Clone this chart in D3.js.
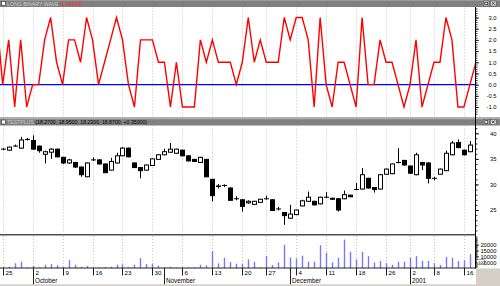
<!DOCTYPE html>
<html><head><meta charset="utf-8">
<script src="https://cdn.jsdelivr.net/npm/d3@7"></script>
<style>html,body{margin:0;padding:0;background:#fff;overflow:hidden}svg{display:block}text{font-family:"Liberation Sans",Arial,sans-serif}</style>
</head><body><svg id="c" width="500" height="286"></svg>
<script>
// ---------- DATA ----------
const dates = ["2000-09-22",
"2000-09-25","2000-09-26","2000-09-27","2000-09-28","2000-09-29",
"2000-10-02","2000-10-03","2000-10-04","2000-10-05","2000-10-06",
"2000-10-09","2000-10-10","2000-10-11","2000-10-12","2000-10-13",
"2000-10-16","2000-10-17","2000-10-18","2000-10-19","2000-10-20",
"2000-10-23","2000-10-24","2000-10-25","2000-10-26","2000-10-27",
"2000-10-30","2000-10-31","2000-11-01","2000-11-02","2000-11-03",
"2000-11-06","2000-11-07","2000-11-08","2000-11-09","2000-11-10",
"2000-11-13","2000-11-14","2000-11-15","2000-11-16","2000-11-17",
"2000-11-20","2000-11-21","2000-11-22","2000-11-24",
"2000-11-27","2000-11-28","2000-11-29","2000-11-30","2000-12-01",
"2000-12-04","2000-12-05","2000-12-06","2000-12-07","2000-12-08",
"2000-12-11","2000-12-12","2000-12-13","2000-12-14","2000-12-15",
"2000-12-18","2000-12-19","2000-12-20","2000-12-21","2000-12-22",
"2000-12-26","2000-12-27","2000-12-28","2000-12-29",
"2001-01-02","2001-01-03","2001-01-04","2001-01-05",
"2001-01-08","2001-01-09","2001-01-10","2001-01-11","2001-01-12",
"2001-01-16","2001-01-17","2001-01-18"];

const wave = [3,
0,2,-1,2,-1, 0,0,2,3,1, 0,2,2,1,3, 2,0,1,2,3, 2,0,-1,2,2,
2,1,1,-1,1, -1,-1,-1,2,1, 2,1,1,1,0, 1,3,1,2, 1,1,1,3,2,
3,3,2,-1,3, 0,-1,1,1,0, -1,3,0,0,2, 1,1,0,-1, 0,2,-1,0,
1,1,3,2,-1, -1,0,1];

const open = [null,
36.9,36.7,37.5,37.1,38.8, 38.6,37.5,35.9,36.3,36.9, 35.3,34.2,34.3,33.4,31.5,
34.8,34.8,34.0,32.8,34.2, 35.6,37.1,34.2,33.3,32.8, 33.7,34.9,35.8,36.3,36.1,
36.7,35.6,34.9,34.3,34.9, 31.0,29.6,29.8,29.3,27.2, 27.0,26.4,26.1,26.5,
27.2,27.0,25.2,24.5,23.4, 24.1,25.8,26.7,26.7,26.2, 27.5,27.3,27.2,27.2,27.9,
29.0,29.1,31.2,29.4,29.1, 32.0,32.1,34.3,34.7, 33.6,31.9,34.3,34.2,
31.2,32.0,32.7,35.8,38.2, 36.7,36.4,null];
const high = [null,
37.1,37.4,37.8,39.3,39.1, 39.6,37.6,36.6,37.1,37.0, 35.4,35.0,34.4,33.5,34.3,
35.3,34.9,34.1,35.2,36.2, 37.3,37.2,34.3,33.4,33.9, 35.1,35.9,37.0,38.1,37.0,
36.8,35.7,35.0,35.4,35.0, 31.1,30.1,30.0,29.4,27.7, 27.1,26.9,26.8,27.2,
27.8,27.1,25.6,24.6,26.0, 25.1,27.0,28.6,26.8,27.6, 28.5,27.4,27.3,28.8,28.0,
30.3,33.2,31.3,29.5,32.0, 33.1,34.1,37.1,34.8, 33.7,36.2,34.4,34.3,
31.5,33.1,36.6,38.5,38.8, 36.8,38.5,null];
const low = [null,
36.7,36.6,37.4,37.0,38.6, 36.8,36.2,34.1,35.0,35.3, 34.0,34.0,33.2,31.5,31.4,
34.6,33.9,32.2,32.7,34.1, 35.5,35.3,33.2,31.2,32.7, 33.6,34.8,35.7,36.2,36.0,
35.5,34.5,34.4,34.2,31.4, 26.7,29.2,29.5,26.8,26.9, 24.7,26.2,26.0,26.4,
27.0,24.8,24.9,22.1,23.3, 24.0,25.7,26.6,25.9,26.1, 27.3,27.0,24.7,27.1,27.5,
28.9,29.0,29.2,28.4,29.0, 31.9,32.0,34.1,33.7, 32.1,31.8,32.8,30.2,
30.8,31.9,32.6,35.7,37.1, 35.7,36.3,null];
const close = [null,
36.9,37.3,37.5,38.7,38.8, 36.9,36.6,36.4,36.9,35.4, 34.2,34.8,33.4,31.9,34.2,
34.8,34.0,32.3,34.5,35.6, 37.1,35.4,33.3,32.7,33.8, 35.0,35.8,36.4,36.9,36.9,
35.6,34.6,34.5,35.3,31.5, 27.8,29.7,29.8,26.9,27.2, 25.7,26.7,26.7,27.1,
27.2,24.9,25.2,23.9,24.2, 25.0,26.8,27.5,26.0,27.5, 27.5,27.1,25.0,28.0,27.6,
29.0,31.9,29.3,29.0,31.9, 33.0,34.0,34.3,33.8, 32.2,35.8,33.8,31.2,
31.2,33.0,36.1,38.1,37.2, 35.8,37.7,null];
const volume = [null,
500,1100,4000,5400,600, 2000,300,2800,3400,2300, 600,6800,2800,1100,1700,
300,300,850,1100,2800, 3100,600,2800,8500,3400, 3700,2000,600,1100,300,
300,300,600,2800,2300, 14500,4000,8800,5100,3700, 3500,7500,5400,600,
10200,2600,4800,19900,9100, 8200,10500,5400,5400,19600, 13000,4800,8800,24400,13900,
7400,13900,10200,4800,6000, 4000,2800,5400,5400, 8800,10200,6200,6000,
4000,2600,9600,8800,6000, 6600,11900,null];

const dayTicks = ["2000-09-25","2000-10-02","2000-10-09","2000-10-16","2000-10-23","2000-10-30",
"2000-11-06","2000-11-13","2000-11-20","2000-11-27","2000-12-04","2000-12-11","2000-12-18",
"2000-12-26","2001-01-02","2001-01-08","2001-01-16"];
const dayTickLabels = ["25","2","9","16","23","30","6","13","20","27","4","11","18","26","2","8","16"];
const monthTicks = ["2000-10-02","2000-11-01","2000-12-01","2001-01-02"];
const monthLabels = ["October","November","December","2001"];
const waveTicks = [3,2.5,2,1.5,1,0.5,0,-0.5,-1];
const priceTicks = [40,35,30,25];
const volumeTicks = [20000,15000,10000,5000];
const waveTitle = "LONG BINARY WAVE", waveParam = "(1.00000)";
const priceTitle = "TESTPLUS", priceValues = "(18.2700, 18.9500, 18.2300, 18.8700, +0.35000)";

// ---------- CHART ----------
const svg = d3.select("#c");
const AX = 475.5;
const x = d3.scalePoint().domain(dates).range([-3.29, 475.9]);
const yWave = d3.scaleLinear().domain([-1,3]).range([107,17.5]);
const yPrice = d3.scaleLinear().domain([25,40]).range([210,133.3]);
const yVol = d3.scaleLinear().domain([0,20000]).range([268,244.7]);

const panels = [
  {id:"pw", y0:7.5, y1:116.5},
  {id:"pp", y0:125.5, y1:233.5},
  {id:"pv", y0:236, y1:268}
];
const defs = svg.append("defs");
panels.forEach(p=>{
  defs.append("clipPath").attr("id",p.id).append("rect")
    .attr("x",0).attr("y",p.y0).attr("width",AX).attr("height",p.y1-p.y0);
});

// header bars
function header(y, title, rest, restColor){
  svg.append("rect").attr("x",0).attr("y",y).attr("width",500).attr("height",7)
    .attr("fill","#808080");
  svg.append("line").attr("x1",0).attr("x2",500).attr("y1",y+0.5).attr("y2",y+0.5)
    .attr("stroke","#9a9a9a").attr("stroke-width",1);
  svg.append("rect").attr("x",1.5).attr("y",y+1.5).attr("width",4).attr("height",4)
    .attr("fill","#fff").attr("stroke","#303030").attr("stroke-width",0.6);
  const t = svg.append("text").attr("x",7).attr("y",y+5.6).attr("font-size",5.2);
  t.append("tspan").attr("fill","#cfcfcf").text(title+" ");
  t.append("tspan").attr("fill",restColor).text(rest);
  // window buttons
  [483.5,490.5].forEach((bx,i)=>{
    svg.append("rect").attr("x",bx).attr("y",y+1).attr("width",5.5).attr("height",5)
      .attr("fill","#e4e4e4").attr("stroke","#404040").attr("stroke-width",0.5);
    if(i===0){
      svg.append("rect").attr("x",bx+1.3).attr("y",y+2.2).attr("width",3).attr("height",2.6)
        .attr("fill","none").attr("stroke","#000").attr("stroke-width",0.6);
    } else {
      svg.append("path").attr("d",`M${bx+1.3},${y+2}L${bx+4.2},${y+4.8}M${bx+4.2},${y+2}L${bx+1.3},${y+4.8}`)
        .attr("stroke","#000").attr("stroke-width",0.7);
    }
  });
}
header(0, waveTitle, waveParam, "#ff2020");
header(118.5, priceTitle, priceValues, "#000");

// separators
svg.append("line").attr("x1",0).attr("x2",500).attr("y1",117.5).attr("y2",117.5)
  .attr("stroke","#b0b0b0");
svg.append("line").attr("x1",0).attr("x2",AX).attr("y1",234.8).attr("y2",234.8)
  .attr("stroke","#505050").attr("stroke-width",1.6);

// gridlines
panels.forEach(p=>{
  svg.append("g").selectAll("line").data(dayTicks).join("line")
    .attr("x1",d=>Math.round(x(d))+0.5).attr("x2",d=>Math.round(x(d))+0.5)
    .attr("y1",p.y0).attr("y2",p.y1)
    .attr("stroke","#c4c4c4").attr("stroke-width",1).attr("stroke-dasharray","1,2");
});

// ---- wave panel ----
const gw = svg.append("g").attr("clip-path","url(#pw)");
gw.append("line").attr("x1",0).attr("x2",AX).attr("y1",yWave(0)).attr("y2",yWave(0))
  .attr("stroke","#0000ff").attr("stroke-width",1.2);
gw.append("path").datum(dates.map((d,i)=>[d,wave[i]]))
  .attr("fill","none").attr("stroke","#ff0000").attr("stroke-width",1.4)
  .attr("stroke-linejoin","miter")
  .attr("d",d3.line().x(d=>x(d[0])).y(d=>yWave(d[1])));

// ---- price panel ----
const gp = svg.append("g").attr("clip-path","url(#pp)");
const idx = d3.range(dates.length).filter(i=>open[i]!==null);
gp.selectAll("line.wick").data(idx).join("line").attr("class","wick")
  .attr("x1",i=>Math.round(x(dates[i]))+0.5).attr("x2",i=>Math.round(x(dates[i]))+0.5)
  .attr("y1",i=>yPrice(high[i])).attr("y2",i=>yPrice(low[i]))
  .attr("stroke","#000").attr("stroke-width",1);
gp.selectAll("rect.body").data(idx).join("rect").attr("class","body")
  .attr("x",i=>Math.round(x(dates[i]))-1.5)
  .attr("width",4)
  .attr("y",i=>yPrice(Math.max(open[i],close[i])))
  .attr("height",i=>Math.max(0.01,Math.abs(yPrice(open[i])-yPrice(close[i]))))
  .attr("fill",i=>close[i]<open[i]?"#000":"#fff")
  .attr("stroke","#000").attr("stroke-width",1);

// ---- volume panel ----
const gv = svg.append("g").attr("clip-path","url(#pv)");
gv.selectAll("rect").data(idx).join("rect")
  .attr("x",i=>Math.round(x(dates[i]))-0.2).attr("width",1.4)
  .attr("y",i=>yVol(volume[i])).attr("height",i=>yVol(0)-yVol(volume[i]))
  .attr("fill","#7777ff");

// ---- right axes ----
svg.append("line").attr("x1",AX).attr("x2",AX).attr("y1",7).attr("y2",268.5)
  .attr("stroke","#000").attr("stroke-width",1);
function rAxis(scale, major, minor, fmt){
  const g1 = svg.append("g").attr("transform",`translate(${AX},0)`)
    .call(d3.axisRight(scale).tickValues(minor).tickSize(2).tickFormat(""));
  g1.select(".domain").remove();
  g1.selectAll("line").attr("stroke","#000").attr("stroke-width",0.8);
  const g2 = svg.append("g").attr("transform",`translate(${AX},0)`)
    .call(d3.axisRight(scale).tickValues(major).tickSize(3.5).tickFormat(fmt));
  g2.select(".domain").remove();
  g2.selectAll("line").attr("stroke","#000").attr("stroke-width",0.8);
  g2.selectAll("text").attr("x",21).attr("text-anchor","end")
    .attr("font-family","Liberation Sans, Arial, sans-serif").attr("font-size",5.8).attr("fill","#000");
  return g2;
}
rAxis(yWave, waveTicks, d3.range(-13,35).map(d=>d/10), d=>d.toFixed(1));
rAxis(yPrice, priceTicks, d3.range(21,42), d=>String(d));
rAxis(yVol, volumeTicks, d3.range(1,28).map(d=>d*1000), d=>String(d));

// x100 box
svg.append("rect").attr("x",476.5).attr("y",259.8).attr("width",8).attr("height",4.6)
  .attr("fill","#fff").attr("stroke","#404040").attr("stroke-width",0.5);
svg.append("text").attr("x",480.5).attr("y",263.5).attr("text-anchor","middle")
  .attr("font-size",3.6).attr("fill","#000").text("x100");

// ---- bottom x axis ----
svg.append("rect").attr("x",476).attr("y",268.5).attr("width",24).attr("height",17.5).attr("fill","#d4d0c8");
svg.append("rect").attr("x",0).attr("y",284.3).attr("width",500).attr("height",2).attr("fill","#d4d0c8");
svg.append("line").attr("x1",0).attr("x2",476).attr("y1",268).attr("y2",268)
  .attr("stroke","#202020").attr("stroke-width",1);
const gx = svg.append("g");
gx.selectAll("line.dt").data(dayTicks).join("line").attr("class","dt")
  .attr("x1",d=>Math.round(x(d))+0.5).attr("x2",d=>Math.round(x(d))+0.5)
  .attr("y1",268).attr("y2",275.5).attr("stroke","#202020").attr("stroke-width",1);
gx.selectAll("text.dt").data(dayTicks).join("text").attr("class","dt")
  .attr("x",d=>Math.round(x(d))+2.5).attr("y",275.3).attr("font-size",6.2).attr("fill","#000")
  .text((d,i)=>dayTickLabels[i]);
gx.selectAll("line.mt").data(monthTicks).join("line").attr("class","mt")
  .attr("x1",d=>Math.round(x(d))+0.5).attr("x2",d=>Math.round(x(d))+0.5)
  .attr("y1",268).attr("y2",284.3).attr("stroke","#202020").attr("stroke-width",1);
gx.selectAll("text.mt").data(monthTicks).join("text").attr("class","mt")
  .attr("x",d=>Math.round(x(d))+2).attr("y",283.2).attr("font-size",6.3).attr("fill","#000")
  .text((d,i)=>monthLabels[i]);
</script></body></html>
